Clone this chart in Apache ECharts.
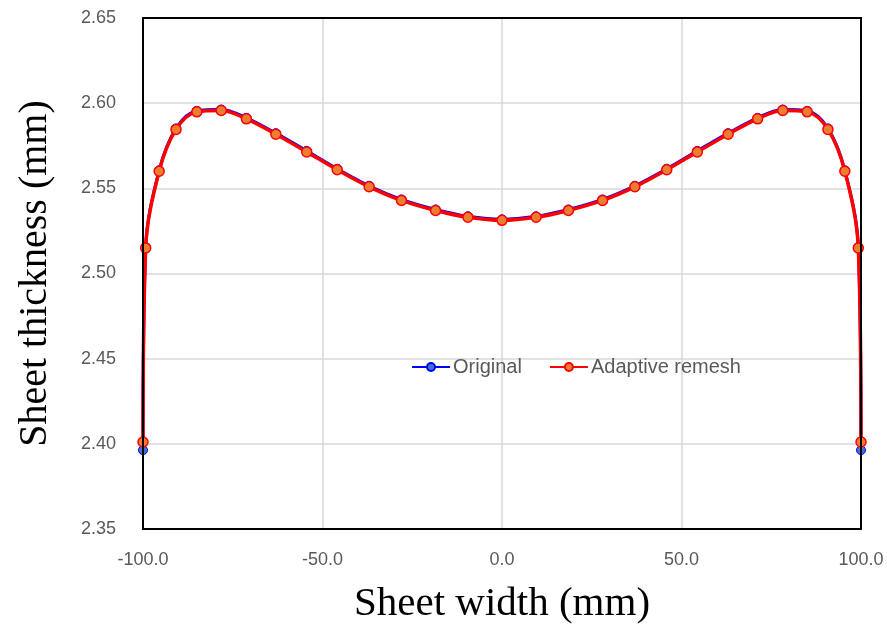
<!DOCTYPE html>
<html>
<head>
<meta charset="utf-8">
<script src="https://cdn.jsdelivr.net/npm/echarts@6/dist/echarts.min.js"></script>
<style>html,body{margin:0;padding:0;background:#fff;}#c{width:887px;height:624px;}</style>
</head>
<body>
<div id="c"></div>
<script>
var widthMm = [-100, -99.25, -95.5, -90.8, -85.0, -78.2, -71.2, -63.0, -54.4, -45.9, -37.0, -28.0, -18.5, -9.5, 0, 9.5, 18.5, 28.0, 37.0, 45.9, 54.4, 63.0, 71.2, 78.2, 85.0, 90.8, 95.5, 99.25, 100];
var original = [2.3963, 2.5156, 2.5606, 2.5852, 2.5955, 2.5963, 2.5914, 2.5824, 2.5720, 2.5615, 2.5515, 2.5435, 2.5376, 2.5336, 2.5318, 2.5336, 2.5376, 2.5435, 2.5515, 2.5615, 2.5720, 2.5824, 2.5914, 2.5963, 2.5955, 2.5852, 2.5606, 2.5156, 2.3963];
var adaptive = [2.4011, 2.5150, 2.5600, 2.5846, 2.5949, 2.5957, 2.5908, 2.5818, 2.5714, 2.5609, 2.5509, 2.5429, 2.5370, 2.5330, 2.5312, 2.5330, 2.5370, 2.5429, 2.5509, 2.5609, 2.5714, 2.5818, 2.5908, 2.5957, 2.5949, 2.5846, 2.5600, 2.5150, 2.4011];
var seriesNames = ['Original', 'Adaptive remesh'];

function pairs(xs, ys) { return xs.map(function (x, i) { return [x, ys[i]]; }); }

var chart = echarts.init(document.getElementById('c'), null, {renderer: 'canvas'});
chart.setOption({
  animation: false,
  backgroundColor: '#fff',
  grid: {left: 143, right: 26, top: 18, bottom: 95, show: true, borderColor: '#000', borderWidth: 2,
    containLabel: false, outerBoundsMode: 'none', z: 5},
  legend: {
    left: 406, top: 352, itemWidth: 38, itemHeight: 10, itemGap: 27,
    textStyle: {fontFamily: 'Liberation Sans', fontSize: 20, color: '#595959', padding: [0, 0, 0, -2]},
    data: seriesNames
  },
  xAxis: {
    type: 'value', min: -100, max: 100, interval: 50,
    name: 'Sheet width (mm)', nameLocation: 'middle', nameGap: 55,
    nameTextStyle: {fontFamily: 'Liberation Serif', fontSize: 41, color: '#000'},
    axisLine: {show: true, onZero: false, lineStyle: {color: '#404040', width: 2}},
    axisTick: {show: false},
    axisLabel: {fontFamily: 'Liberation Sans', fontSize: 18, color: '#595959', margin: 22,
      formatter: function (v) { return v.toFixed(1); }},
    splitLine: {show: true, showMinLine: false, showMaxLine: false, lineStyle: {color: '#d9d9d9', width: 1.5}}
  },
  yAxis: {
    type: 'value', min: 2.35, max: 2.65, interval: 0.05,
    name: 'Sheet thickness (mm)', nameLocation: 'middle', nameGap: 88,
    nameTextStyle: {fontFamily: 'Liberation Serif', fontSize: 40, color: '#000'},
    axisLine: {show: true, onZero: false, lineStyle: {color: '#404040', width: 2}},
    axisTick: {show: false},
    axisLabel: {fontFamily: 'Liberation Sans', fontSize: 18, color: '#595959', margin: 27,
      formatter: function (v) { return v.toFixed(2); }},
    splitLine: {show: true, showMinLine: false, showMaxLine: false, lineStyle: {color: '#d9d9d9', width: 1.5}}
  },
  series: [
    {
      name: seriesNames[0], type: 'line', data: pairs(widthMm, original),
      smooth: 0.35, symbol: 'circle', symbolSize: 9,
      lineStyle: {color: '#0000ff', width: 3},
      itemStyle: {color: '#4472c4', borderColor: '#0000ff', borderWidth: 1}, z: 2
    },
    {
      name: seriesNames[1], type: 'line', data: pairs(widthMm, adaptive),
      smooth: 0.35, symbol: 'circle', symbolSize: 10,
      lineStyle: {color: '#ff0000', width: 3.5},
      itemStyle: {color: '#ed7d31', borderColor: '#ff0000', borderWidth: 1.5}, z: 3
    }
  ]
});
</script>
</body>
</html>
